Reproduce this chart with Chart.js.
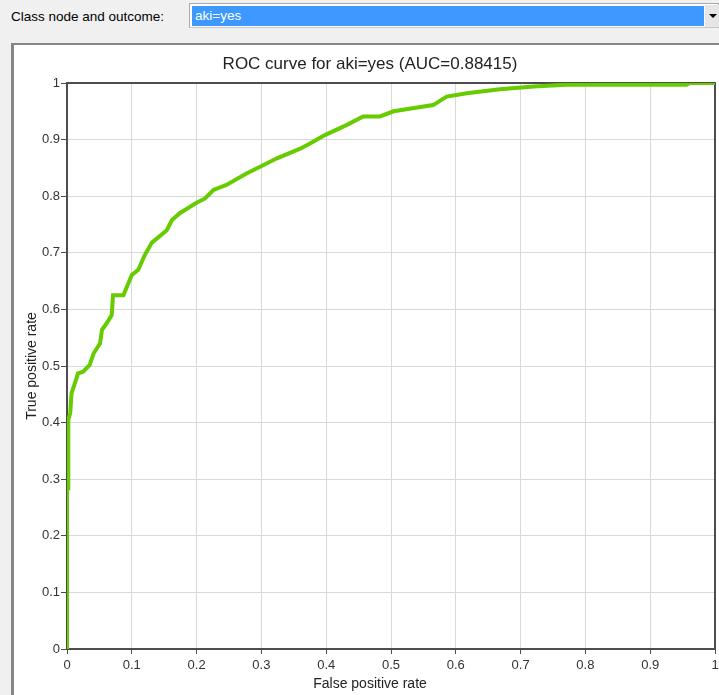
<!DOCTYPE html>
<html>
<head>
<meta charset="utf-8">
<title>ROC curve</title>
<script src="https://cdn.jsdelivr.net/npm/chart.js@4.4.1/dist/chart.umd.min.js"></script>
<style>
  html, body { margin: 0; padding: 0; }
  body {
    width: 719px; height: 695px; overflow: hidden; position: relative;
    background: #f0f0f0; font-family: "Liberation Sans", Arial, sans-serif;
  }
  #lbl { position: absolute; left: 11px; top: 9px; font-size: 13.5px; line-height: 16px; color: #000; }
  #combo {
    position: absolute; left: 189px; top: 3px; width: 530px; height: 25px;
    box-sizing: border-box; border: 1px solid #a9a9a9; border-bottom-color: #c8c8c8; background: #fff;
  }
  #sel {
    position: absolute; left: 2px; top: 2px; width: 512px; height: 20px;
    background: #3d99ff; color: #fff; font-size: 13.5px; line-height: 20px; padding-left: 3px; box-sizing: border-box;
  }
  #btn { position: absolute; left: 515px; top: 1px; width: 14px; height: 22px; background: #e6e6e6; }
  #btn:after {
    content: ""; position: absolute; left: 4px; top: 9px;
    border-left: 4px solid transparent; border-right: 4px solid transparent; border-top: 4px solid #000;
  }
  #panel {
    position: absolute; left: 11px; top: 43px; width: 705px; height: 650px;
    border-left: 3px solid #868686; border-top: 2px solid #868686; background: #fff; overflow: hidden;
  }
  #panel canvas { position: absolute; left: 0; top: 0; }
</style>
</head>
<body>
<div id="lbl">Class node and outcome:</div>
<div id="combo"><div id="sel">aki=yes</div><div id="btn"></div></div>
<div id="panel"><canvas id="roc" width="712" height="650"></canvas></div>
<script>
var chartTitle = 'ROC curve for aki=yes (AUC=0.88415)';
var xAxisTitle = 'False positive rate';
var yAxisTitle = 'True positive rate';
var tickLabels = ['0', '0.1', '0.2', '0.3', '0.4', '0.5', '0.6', '0.7', '0.8', '0.9', '1'];

// ROC points
var fpr = [0, 0, 0.002, 0.002, 0.005, 0.007, 0.012, 0.017, 0.025, 0.035, 0.041, 0.051, 0.054, 0.061,
  0.069, 0.071, 0.087, 0.1, 0.11, 0.12, 0.131, 0.154, 0.162, 0.174, 0.198, 0.213, 0.226, 0.246,
  0.277, 0.298, 0.324, 0.36, 0.375, 0.398, 0.432, 0.457, 0.483, 0.504, 0.565, 0.586, 0.617, 0.668,
  0.72, 0.771, 0.956, 0.961, 1];
var tpr = [0, 0.281, 0.283, 0.405, 0.417, 0.452, 0.469, 0.487, 0.49, 0.502, 0.522, 0.54, 0.564, 0.575,
  0.59, 0.625, 0.625, 0.661, 0.67, 0.696, 0.718, 0.74, 0.758, 0.77, 0.787, 0.796, 0.811, 0.82,
  0.84, 0.852, 0.867, 0.884, 0.893, 0.908, 0.926, 0.941, 0.941, 0.95, 0.961, 0.976, 0.982, 0.989,
  0.994, 0.997, 0.997, 1, 1];

var points = [];
for (let i = 0; i < fpr.length; i++) {
  points.push({ x: fpr[i], y: tpr[i] });
}

var axisColor = '#4d4d4d';

// top and right edges of the plot box
var frame = {
  id: 'frame',
  beforeDatasetsDraw: function (chart) {
    var a = chart.chartArea;
    var c = chart.ctx;
    c.save();
    c.strokeStyle = axisColor;
    c.lineWidth = 2;
    c.beginPath();
    c.moveTo(a.left, a.top);
    c.lineTo(a.right, a.top);
    c.lineTo(a.right, a.bottom);
    c.stroke();
    c.restore();
  }
};

Chart.defaults.font.family = '"Liberation Sans", Arial, sans-serif';
Chart.defaults.color = '#333';

var ctx = document.getElementById('roc');
var myChart = new Chart(ctx, {
  type: 'scatter',
  data: {
    datasets: [{
      label: 'aki=yes',
      data: points,
      showLine: true,
      borderColor: '#66cc00',
      backgroundColor: '#66cc00',
      borderWidth: 4,
      pointRadius: 0,
      fill: false
    }]
  },
  options: {
    responsive: false,
    animation: false,
    plugins: {
      legend: { display: false },
      tooltip: { enabled: false },
      title: {
        display: true,
        text: chartTitle,
        color: '#222',
        font: { size: 17, weight: 'normal' },
        padding: { top: 8.8, bottom: 8.8 }
      },
      subtitle: {
        display: true,
        position: 'bottom',
        text: xAxisTitle,
        color: '#222',
        font: { size: 14 },
        padding: { top: 2.1, bottom: 2.5 }
      }
    },
    scales: {
      x: {
        type: 'linear',
        min: 0,
        max: 1,
        ticks: {
          stepSize: 0.1,
          padding: 4,
          maxRotation: 0,
          font: { size: 13 },
          callback: function (v, i) { return tickLabels[i]; }
        },
        grid: { color: '#d9d9d9', tickColor: axisColor, tickLength: 5 },
        border: { color: axisColor, width: 2 },
        afterFit: function (scale) {
          scale.height = 24.6;
          scale.paddingRight = 11;
        }
      },
      y: {
        type: 'linear',
        min: 0,
        max: 1,
        ticks: {
          stepSize: 0.1,
          padding: 1,
          font: { size: 13 },
          callback: function (v, i) { return tickLabels[i]; }
        },
        grid: { color: '#d9d9d9', tickColor: axisColor, tickLength: 6 },
        border: { color: axisColor, width: 2 },
        title: {
          display: true,
          text: yAxisTitle,
          color: '#222',
          font: { size: 14 },
          padding: { top: 9.3, bottom: 0 }
        },
        afterFit: function (scale) {
          scale.width = 53;
        }
      }
    }
  },
  plugins: [frame]
});
</script>
</body>
</html>
